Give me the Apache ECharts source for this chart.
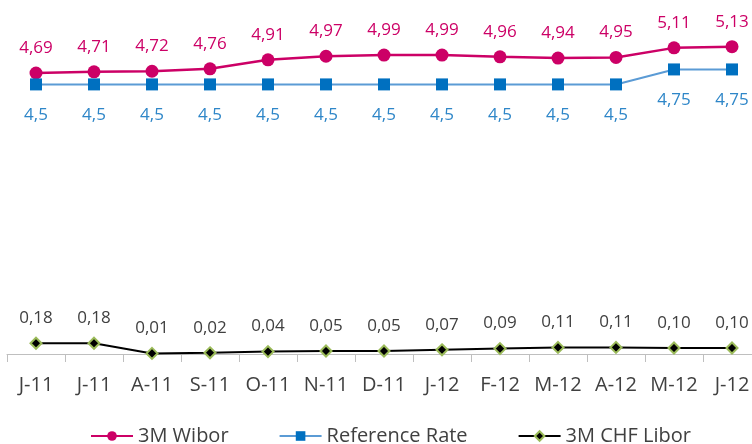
<!DOCTYPE html>
<html><head><meta charset="utf-8">
<script src="https://cdn.jsdelivr.net/npm/echarts@6/dist/echarts.min.js"></script>
<style>html,body{margin:0;padding:0;background:#fff}#c{width:752px;height:444px}</style>
</head><body><div id="c"></div>
<script>
const categories = ['J-11','J-11','A-11','S-11','O-11','N-11','D-11','J-12','F-12','M-12','A-12','M-12','J-12'];
const wibor = [4.69,4.71,4.72,4.76,4.91,4.97,4.99,4.99,4.96,4.94,4.95,5.11,5.13];
const refRate = [4.5,4.5,4.5,4.5,4.5,4.5,4.5,4.5,4.5,4.5,4.5,4.75,4.75];
const chfLibor = [0.18,0.18,0.01,0.02,0.04,0.05,0.05,0.07,0.09,0.11,0.11,0.10,0.10];
const fmt = d => String(d.value).replace('.', ',');
const fmt2 = d => d.value.toFixed(2).replace('.', ',');
const font = '"Open Sans", "Liberation Sans", sans-serif';
const chart = echarts.init(document.getElementById('c'));
chart.setOption({
  animation: false,
  textStyle: {fontFamily: font},
  grid: [
    {left: 7, width: 754, top: 24.5, bottom: 90, containLabel: false, outerBoundsMode: 'none'},
    {left: 7, width: 754, top: 354, height: 8, containLabel: false, outerBoundsMode: 'none'}
  ],
  legend: {
    top: 421, left: 85, itemWidth: 42, itemHeight: 12, itemGap: 50,
    textStyle: {fontSize: 20, color: '#404040', fontFamily: font},
    data: ['3M Wibor','Reference Rate','3M CHF Libor']
  },
  xAxis: [{
    type: 'category', data: categories, boundaryGap: true, position: 'bottom', gridIndex: 0,
    axisLine: {show: true, lineStyle: {color: '#BFBFBF', width: 1}},
    axisTick: {show: false},
    axisLabel: {fontSize: 20, color: '#404040', margin: 21, interval: 0}
  }, {
    type: 'value', gridIndex: 1, min: 0, max: categories.length, interval: 1,
    axisLine: {show: false}, axisLabel: {show: false}, axisTick: {show: false},
    splitLine: {show: true, lineStyle: {color: '#BFBFBF', width: 1}}
  }],
  yAxis: [
    {type: 'value', gridIndex: 0, min: 0, max: 5.5, show: false, splitLine: {show: false}},
    {type: 'value', gridIndex: 1, min: 0, max: 1, show: false, splitLine: {show: false}}
  ],
  series: [
    {name: '3M Wibor', type: 'line', data: wibor, symbol: 'circle', symbolSize: 13,
     itemStyle: {color: '#CC0066'}, lineStyle: {color: '#CC0066', width: 2.5},
     label: {show: true, position: 'top', distance: 10, formatter: fmt2, fontSize: 17, color: '#CC0066'}},
    {name: 'Reference Rate', type: 'line', data: refRate, symbol: 'rect', symbolSize: 12,
     itemStyle: {color: '#0070C0'}, lineStyle: {color: '#5B9BD5', width: 2},
     label: {show: true, position: 'bottom', distance: 16, formatter: fmt, fontSize: 17, color: '#2E86C8'}},
    {name: '3M CHF Libor', type: 'line', data: chfLibor, symbol: 'diamond', symbolSize: 11,
     itemStyle: {color: '#000000', borderColor: '#9BBB59', borderWidth: 2}, lineStyle: {color: '#000000', width: 2},
     label: {show: true, position: 'top', distance: 10, formatter: fmt2, fontSize: 17, color: '#404040'}}
  ]
});
</script></body></html>
